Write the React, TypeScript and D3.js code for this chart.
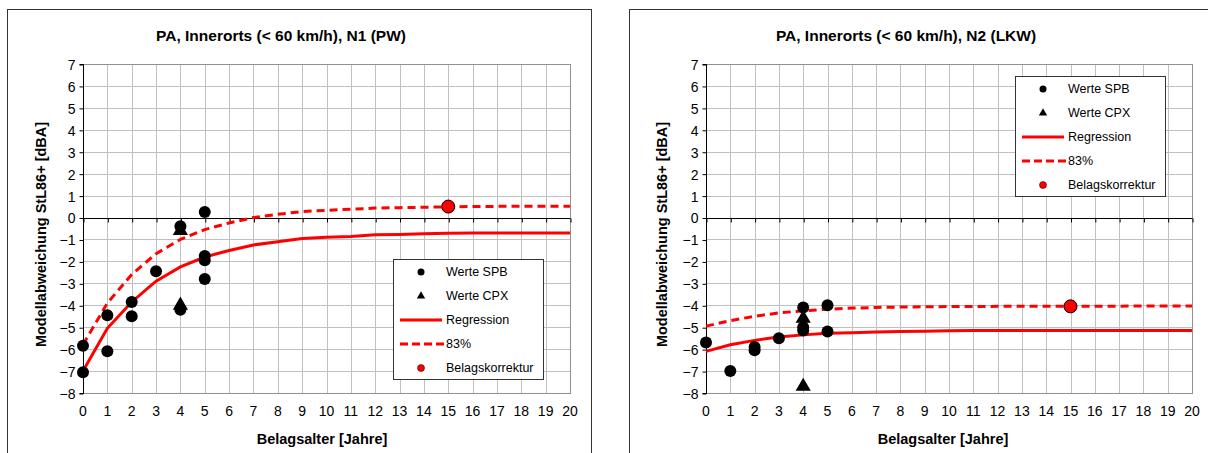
import React, { useEffect, useRef } from 'react';
import * as d3 from 'd3';

// years 0..20 for the fitted curves
const years = d3.range(0, 21);
const xTicks = d3.range(0, 21);
const yTicks = d3.range(-8, 8);

// N1 (PW)
const n1Spb: [number, number][] = [
  [0, -5.85], [0, -7.05], [1, -4.45], [1, -6.1], [2, -3.85], [2, -4.5],
  [3, -2.45], [4, -0.4], [4, -4.2], [5, 0.25], [5, -1.75], [5, -1.95], [5, -2.8],
];
const n1Cpx: [number, number][] = [[4, -0.6], [4, -4.0]];
const n1Regression = [-7.0, -5.05, -3.85, -2.9, -2.25, -1.8, -1.5, -1.25, -1.1, -0.96, -0.9, -0.86, -0.79, -0.77, -0.74, -0.72, -0.7, -0.7, -0.7, -0.7, -0.7];
const n1P83 = [-5.8, -3.9, -2.6, -1.65, -1.0, -0.55, -0.25, 0.0, 0.15, 0.27, 0.33, 0.38, 0.43, 0.45, 0.47, 0.49, 0.5, 0.51, 0.51, 0.52, 0.52];
const n1Korrektur: [number, number] = [15, 0.5];

// N2 (LKW)
const n2Spb: [number, number][] = [
  [0, -5.7], [1, -7.0], [2, -5.9], [2, -6.05], [3, -5.5], [4, -4.1], [4, -5.0],
  [4, -5.15], [5, -4.0], [5, -5.2],
];
const n2Cpx: [number, number][] = [[4, -4.6], [4, -7.7]];
const n2Regression = [-6.1, -5.8, -5.6, -5.45, -5.35, -5.28, -5.25, -5.22, -5.2, -5.18, -5.16, -5.15, -5.15, -5.15, -5.15, -5.15, -5.15, -5.15, -5.15, -5.15, -5.15];
const n2P83 = [-4.95, -4.7, -4.5, -4.35, -4.25, -4.18, -4.13, -4.1, -4.08, -4.07, -4.06, -4.06, -4.05, -4.05, -4.05, -4.04, -4.04, -4.04, -4.03, -4.03, -4.03];
const n2Korrektur: [number, number] = [15, -4.05];

const legendLabels = ['Werte SPB', 'Werte CPX', 'Regression', '83%', 'Belagskorrektur'];

const FONT = "'Liberation Sans', Arial, sans-serif";
const RED = '#ff0000';

interface PanelCfg {
  title: string;
  frame: [number, number, number, number];
  plot: [number, number, number, number]; // x0, x1, yTop, yBottom
  titleX: number;
  yTitleX: number;
  xTitleX: number;
  legend: [number, number, number, number];
  spb: [number, number][];
  cpx: [number, number][];
  regression: number[];
  p83: number[];
  korrektur: [number, number];
}

const panels: PanelCfg[] = [
  {
    title: 'PA, Innerorts (< 60 km/h), N1 (PW)',
    frame: [7.5, 9.5, 584, 460],
    plot: [83, 570, 64, 393],
    titleX: 281,
    yTitleX: 46,
    xTitleX: 322,
    legend: [393, 259, 150, 120],
    spb: n1Spb, cpx: n1Cpx, regression: n1Regression, p83: n1P83, korrektur: n1Korrektur,
  },
  {
    title: 'PA, Innerorts (< 60 km/h), N2 (LKW)',
    frame: [629.5, 9.5, 600, 460],
    plot: [706, 1192, 64, 393],
    titleX: 906,
    yTitleX: 667,
    xTitleX: 943,
    legend: [1015, 76, 150, 120],
    spb: n2Spb, cpx: n2Cpx, regression: n2Regression, p83: n2P83, korrektur: n2Korrektur,
  },
];

function drawPanel(svg: d3.Selection<SVGSVGElement, unknown, null, undefined>, p: PanelCfg) {
  const [px0, px1, py0, py1] = p.plot;
  const x = d3.scaleLinear().domain([0, 20]).range([px0, px1]);
  const y = d3.scaleLinear().domain([-8, 7]).range([py1, py0]);
  const g = svg.append('g').attr('font-family', FONT);

  g.append('rect')
    .attr('x', p.frame[0]).attr('y', p.frame[1])
    .attr('width', p.frame[2]).attr('height', p.frame[3])
    .attr('fill', 'white').attr('stroke', '#333').attr('stroke-width', 1);

  // grid
  g.append('g').selectAll('line').data(xTicks.slice(1)).join('line')
    .attr('x1', d => Math.round(x(d)) + 0.5).attr('x2', d => Math.round(x(d)) + 0.5)
    .attr('y1', py0).attr('y2', py1)
    .attr('stroke', '#c0c0c0');
  g.append('g').selectAll('line').data(yTicks.slice(1)).join('line')
    .attr('y1', d => Math.round(y(d)) + 0.5).attr('y2', d => Math.round(y(d)) + 0.5)
    .attr('x1', px0).attr('x2', px1)
    .attr('stroke', '#c0c0c0');
  g.append('rect')
    .attr('x', px0 + 0.5).attr('y', py0 + 0.5)
    .attr('width', px1 - px0).attr('height', py1 - py0)
    .attr('fill', 'none').attr('stroke', '#909090');

  // y axis
  const yAxis = d3.axisLeft(y).tickValues(yTicks).tickSize(4).tickPadding(4).tickFormat(d3.format('d'));
  const ya = g.append('g').attr('transform', `translate(${px0 + 0.5},0.5)`).call(yAxis);
  ya.selectAll('line, path').attr('stroke', '#000');
  ya.select('.domain').attr('d', `M-4,${py0}H0V${py1}H-4`);
  ya.selectAll('text').attr('font-size', 14).attr('font-family', FONT).attr('fill', '#000').attr('dy', '0.35em');

  // zero line with ticks
  const xa = g.append('g').attr('transform', `translate(0.5,${Math.round(y(0)) + 0.5})`)
    .call(d3.axisBottom(x).tickValues(xTicks).tickSize(4).tickFormat(() => ''));
  xa.selectAll('line, path').attr('stroke', '#000');
  xa.select('.domain').attr('d', `M${px0},0H${px1}`);

  // x tick labels
  g.append('g').selectAll('text').data(xTicks).join('text')
    .attr('x', d => x(d)).attr('y', py1 + 23)
    .attr('text-anchor', 'middle').attr('font-size', 14).attr('fill', '#000')
    .text(d => d);

  // titles
  g.append('text').attr('x', p.titleX).attr('y', 41)
    .attr('text-anchor', 'middle').attr('font-size', 15.5).attr('font-weight', 'bold')
    .text(p.title);
  g.append('text').attr('x', p.xTitleX).attr('y', 444)
    .attr('text-anchor', 'middle').attr('font-size', 14.5).attr('font-weight', 'bold')
    .text('Belagsalter [Jahre]');
  g.append('text')
    .attr('transform', `translate(${p.yTitleX},${(py0 + py1) / 2 + 6}) rotate(-90)`)
    .attr('text-anchor', 'middle').attr('font-size', 14.5).attr('font-weight', 'bold')
    .text('Modellabweichung StL86+ [dBA]');

  const line = d3.line<number>().x((_, i) => x(years[i])).y(d => y(d));
  g.append('path').attr('d', line(p.regression)!)
    .attr('fill', 'none').attr('stroke', RED).attr('stroke-width', 3);
  g.append('path').attr('d', line(p.p83)!)
    .attr('fill', 'none').attr('stroke', RED).attr('stroke-width', 3)
    .attr('stroke-dasharray', '8,5');

  const tri = d3.symbol().type(d3.symbolTriangle).size(100);
  g.append('g').selectAll('path').data(p.cpx).join('path')
    .attr('transform', d => `translate(${x(d[0])},${y(d[1])})`)
    .attr('d', tri()!).attr('fill', '#000');
  g.append('g').selectAll('circle').data(p.spb).join('circle')
    .attr('cx', d => x(d[0])).attr('cy', d => y(d[1])).attr('r', 6)
    .attr('fill', '#000');
  g.append('circle')
    .attr('cx', x(p.korrektur[0])).attr('cy', y(p.korrektur[1])).attr('r', 6.5)
    .attr('fill', RED).attr('stroke', '#000').attr('stroke-width', 1);

  // legend
  const [lx, ly, lw, lh] = p.legend;
  const lg = g.append('g');
  lg.append('rect').attr('x', lx + 0.5).attr('y', ly + 0.5).attr('width', lw).attr('height', lh)
    .attr('fill', 'white').attr('stroke', '#333');
  const rowY = (i: number) => ly + 13 + i * 24;
  const symX = lx + 28;
  lg.selectAll('text').data(legendLabels).join('text')
    .attr('x', lx + 53).attr('y', (_, i) => rowY(i)).attr('dy', '0.35em')
    .attr('font-size', 12.5).attr('fill', '#000').text(d => d);
  lg.append('circle').attr('cx', symX).attr('cy', rowY(0)).attr('r', 3.5).attr('fill', '#000');
  lg.append('path').attr('transform', `translate(${symX},${rowY(1)})`)
    .attr('d', d3.symbol().type(d3.symbolTriangle).size(30)()!).attr('fill', '#000');
  lg.append('line').attr('x1', lx + 7).attr('x2', lx + 49).attr('y1', rowY(2)).attr('y2', rowY(2))
    .attr('stroke', RED).attr('stroke-width', 3);
  lg.append('line').attr('x1', lx + 7).attr('x2', lx + 51).attr('y1', rowY(3)).attr('y2', rowY(3))
    .attr('stroke', RED).attr('stroke-width', 3).attr('stroke-dasharray', '8,4');
  lg.append('circle').attr('cx', symX).attr('cy', rowY(4)).attr('r', 3.5)
    .attr('fill', RED).attr('stroke', '#000').attr('stroke-width', 0.5);
}

const App: React.FC = () => {
  const svgRef = useRef<SVGSVGElement | null>(null);

  useEffect(() => {
    if (!svgRef.current) return;
    const svg = d3.select(svgRef.current);
    svg.selectAll('*').remove();
    svg.append('rect').attr('width', 1208).attr('height', 453).attr('fill', 'white');
    panels.forEach(p => drawPanel(svg, p));
  }, []);

  return (
    <svg ref={svgRef} width={1208} height={453}
      style={{ position: 'absolute', left: 0, top: 0, display: 'block' }} />
  );
};

export default App;
